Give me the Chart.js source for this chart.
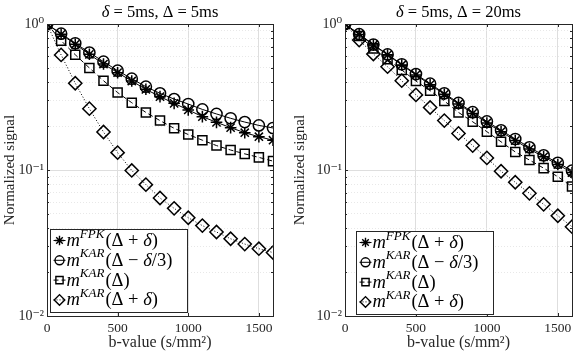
<!DOCTYPE html>
<html>
<head>
<meta charset="utf-8">
<script src="https://cdn.jsdelivr.net/npm/chart.js@4.4.0/dist/chart.umd.min.js"></script>
<style>
  body { margin: 0; background: #fff; }
  #wrap { position: relative; width: 581px; height: 353px; }
  canvas { position: absolute; top: 0; }
</style>
</head>
<body>
<div id="wrap">
  <canvas id="left" width="290" height="353" style="left:0"></canvas>
  <canvas id="right" width="291" height="353" style="left:290px"></canvas>
</div>
<script>
'use strict';

// b-values (s/mm^2)
var bValues = [0, 100, 200, 300, 400, 500, 600, 700, 800, 900, 1000, 1100, 1200, 1300, 1400, 1500, 1600];

// delta = 5ms, Delta = 5ms
var fpkLeft = [1, 0.85, 0.726, 0.62, 0.532, 0.464, 0.407, 0.357, 0.318, 0.286, 0.258, 0.232, 0.212, 0.195, 0.180, 0.169, 0.160];
var karMinusLeft = [1, 0.859, 0.738, 0.637, 0.552, 0.479, 0.422, 0.372, 0.335, 0.306, 0.283, 0.260, 0.242, 0.226, 0.213, 0.202, 0.194];
var karLeft = [1, 0.769, 0.616, 0.500, 0.409, 0.339, 0.289, 0.248, 0.218, 0.193, 0.175, 0.160, 0.147, 0.137, 0.129, 0.122, 0.115];
var karPlusLeft = [1, 0.614, 0.393, 0.263, 0.182, 0.1315, 0.0993, 0.0794, 0.0643, 0.0546, 0.0471, 0.0416, 0.0376, 0.0338, 0.0311, 0.0289, 0.0272];

// delta = 5ms, Delta = 20ms
var fpkRight = [1, 0.849, 0.718, 0.614, 0.524, 0.448, 0.384, 0.330, 0.283, 0.244, 0.210, 0.183, 0.159, 0.139, 0.123, 0.109, 0.096];
var karMinusRight = [1, 0.852, 0.723, 0.619, 0.530, 0.454, 0.390, 0.335, 0.288, 0.249, 0.215, 0.187, 0.163, 0.143, 0.126, 0.112, 0.099];
var karRight = [1, 0.828, 0.681, 0.573, 0.484, 0.407, 0.349, 0.297, 0.248, 0.214, 0.183, 0.156, 0.133, 0.117, 0.103, 0.090, 0.077];
var karPlusRight = [1, 0.776, 0.623, 0.510, 0.409, 0.327, 0.268, 0.218, 0.178, 0.147, 0.121, 0.098, 0.0824, 0.0692, 0.0582, 0.0486, 0.0409];

// legend labels: m^{tag}(arg)
var seriesTags = ['FPK', 'KAR', 'KAR', 'KAR'];
var seriesArgs = ['Δ + δ', 'Δ − δ/3', 'Δ', 'Δ + δ'];

var xTicks = [0, 500, 1000, 1500];
var yDecades = [0.01, 0.1, 1];
var yTickLabels = ['10⁻²', '10⁻¹', '10⁰'];

var serif = '"Liberation Serif", "DejaVu Serif", serif';
var axisColor = '#262626';

var markerStyles = ['star', 'circle', 'rect', 'rectRot'];
var markerSizes = [5.8, 5.6, 6.4, 6.6];
var lineDashes = [[], [], [5, 3], [1, 2]];

function isDecade(v){
  var l = Math.log10(v);
  return Math.abs(l - Math.round(l)) < 1e-6;
}

//split a math string so that the greek delta is italic
function mathParts(s){
  var parts = [];
  var buf = '';
  for(var i=0; i<s.length; i++){
    if(s[i] === 'δ'){
      if(buf) parts.push({text: buf});
      parts.push({text: 'δ', italic: true});
      buf = '';
    }else{
      buf += s[i];
    }
  }
  if(buf) parts.push({text: buf});
  return parts;
}

function labelParts(i){
  var parts = [{text: 'm', italic: true}, {text: seriesTags[i], italic: true, sup: true}];
  return parts.concat(mathParts('(' + seriesArgs[i] + ')'));
}

function drawRich(ctx, parts, x, y, size, align){
  var supSize = Math.round(size * 0.7);
  var total = 0;
  parts.forEach(function(p){
    ctx.font = (p.italic ? 'italic ' : '') + (p.sup ? supSize : size) + 'px ' + serif;
    p.w = ctx.measureText(p.text).width;
    total += p.w;
  });
  var cx = align === 'center' ? x - total / 2 : x;
  ctx.textAlign = 'left';
  ctx.textBaseline = 'alphabetic';
  parts.forEach(function(p){
    ctx.font = (p.italic ? 'italic ' : '') + (p.sup ? supSize : size) + 'px ' + serif;
    ctx.fillText(p.text, cx, p.sup ? y - size * 0.45 : y);
    cx += p.w + (p.sup ? 1 : 0);
  });
}

var framePlugin = {
  id: 'frame',
  afterDatasetsDraw: function(chart){
    var ctx = chart.ctx;
    var a = chart.chartArea;
    var xs = chart.scales.x, ys = chart.scales.y;
    ctx.save();
    ctx.strokeStyle = axisColor;
    ctx.lineWidth = 1;
    ctx.beginPath();
    // inward ticks like the original
    xs.ticks.forEach(function(t){
      var px = Math.round(xs.getPixelForValue(t.value)) + 0.5;
      ctx.moveTo(px, a.bottom); ctx.lineTo(px, a.bottom - 3);
      ctx.moveTo(px, a.top); ctx.lineTo(px, a.top + 3);
    });
    ys.ticks.forEach(function(t){
      var py = Math.round(ys.getPixelForValue(t.value)) + 0.5;
      var len = isDecade(t.value) ? 3 : 2;
      ctx.moveTo(a.left, py); ctx.lineTo(a.left + len, py);
      ctx.moveTo(a.right, py); ctx.lineTo(a.right - len, py);
    });
    ctx.stroke();
    ctx.strokeRect(Math.round(a.left) + 0.5, Math.round(a.top) + 0.5, Math.round(a.right - a.left), Math.round(a.bottom - a.top));
    ctx.restore();
  },
  afterDraw: function(chart){
    var ctx = chart.ctx;
    var a = chart.chartArea;
    var o = chart.options.plugins.frame;
    ctx.save();
    ctx.fillStyle = '#000';
    drawRich(ctx, mathParts(o.title), (a.left + a.right) / 2, 17, 16.5, 'center');

    // legend box
    var bx = Math.round(a.left + o.legendX) + 0.5;
    var bh = 83, bw = 137;
    var by = Math.round(a.bottom - o.legendBottom - bh) + 0.5;
    ctx.fillStyle = '#fff';
    ctx.fillRect(bx, by, bw, bh);
    ctx.strokeStyle = axisColor;
    ctx.lineWidth = 1;
    ctx.strokeRect(bx, by, bw, bh);
    chart.data.datasets.forEach(function(ds, i){
      var cy = by + 11 + i * 19.8;
      ctx.strokeStyle = '#000';
      ctx.lineWidth = 1;
      ctx.setLineDash(ds.borderDash || []);
      ctx.beginPath();
      ctx.moveTo(bx + 3, cy);
      ctx.lineTo(bx + 15, cy);
      ctx.stroke();
      ctx.setLineDash([]);
      ctx.fillStyle = 'rgba(0,0,0,0)';
      ctx.lineWidth = 1.4;
      Chart.helpers.drawPoint(ctx, {pointStyle: ds.pointStyle, radius: ds.pointRadius * 0.8, borderWidth: 1.4, rotation: 0}, bx + 9, cy);
      ctx.fillStyle = '#000';
      drawRich(ctx, labelParts(i), bx + 16, cy + 5.5, 18.5, 'left');
    });
    ctx.restore();
  }
};

function makeChart(id, title, series, yWidth, rightPad, legendX, legendBottom){
  var datasets = series.map(function(values, i){
    return {
      data: bValues.map(function(b, k){ return {x: b, y: values[k]}; }),
      borderColor: '#000',
      borderWidth: 1,
      borderDash: lineDashes[i],
      pointStyle: markerStyles[i],
      pointRadius: markerSizes[i],
      pointBorderWidth: 1.5,
      pointBorderColor: '#000',
      pointBackgroundColor: 'rgba(0,0,0,0)',
      tension: 0,
      fill: false
    };
  });

  return new Chart(document.getElementById(id).getContext('2d'), {
    type: 'line',
    data: {datasets: datasets},
    plugins: [framePlugin],
    options: {
      responsive: false,
      animation: false,
      devicePixelRatio: 1,
      layout: {padding: {top: 24, right: rightPad, bottom: 0, left: 0}},
      plugins: {
        legend: {display: false},
        tooltip: {enabled: false},
        frame: {title: title, legendX: legendX, legendBottom: legendBottom}
      },
      scales: {
        x: {
          type: 'linear',
          min: 0,
          max: 1600,
          afterBuildTicks: function(scale){
            scale.ticks = xTicks.map(function(v){ return {value: v}; });
          },
          afterFit: function(scale){ scale.height = 37; },
          ticks: {
            maxRotation: 0,
            padding: 4,
            color: axisColor,
            font: {family: serif, size: 13.5},
            callback: function(v){ return String(v); }
          },
          grid: {color: '#dedede', drawTicks: false},
          border: {display: false},
          title: {
            display: true,
            text: 'b-value (s/mm²)',
            color: axisColor,
            font: {family: serif, size: 16},
            padding: {top: 0, bottom: 1}
          }
        },
        y: {
          type: 'logarithmic',
          min: 0.01,
          max: 1,
          afterBuildTicks: function(scale){
            var ticks = [];
            yDecades.forEach(function(d, k){
              if(k === yDecades.length - 1){
                ticks.push({value: d, major: true});
                return;
              }
              for(var m=1; m<10; m++){
                ticks.push({value: d * m, major: m === 1});
              }
            });
            scale.ticks = ticks;
          },
          afterFit: function(scale){ scale.width = yWidth; },
          ticks: {
            autoSkip: false,
            padding: 3,
            color: axisColor,
            font: {family: serif, size: 14},
            callback: function(v){
              if(!isDecade(v)) return '';
              var k = yDecades.findIndex(function(d){ return Math.abs(d - v) < 1e-9; });
              return k >= 0 ? yTickLabels[k] : '';
            }
          },
          grid: {
            drawTicks: false,
            color: function(c){ return c.tick && isDecade(c.tick.value) ? '#dedede' : '#e8e8e8'; }
          },
          border: {
            display: false,
            dash: function(c){ return c.tick && !isDecade(c.tick.value) ? [1, 2] : []; }
          },
          title: {
            display: true,
            text: 'Normalized signal',
            color: axisColor,
            font: {family: serif, size: 15},
            padding: {top: 1, bottom: 0}
          }
        }
      }
    }
  });
}

makeChart('left', 'δ = 5ms, Δ = 5ms', [fpkLeft, karMinusLeft, karLeft, karPlusLeft], 47, 17, 3, 4);
makeChart('right', 'δ = 5ms, Δ = 20ms', [fpkRight, karMinusRight, karRight, karPlusRight], 55, 9, 11, 2);
</script>
</body>
</html>
